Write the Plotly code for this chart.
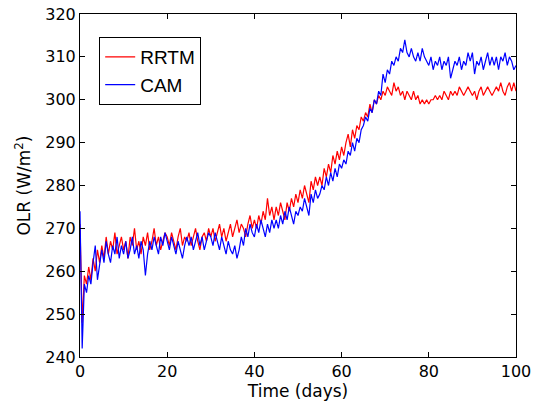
import plotly.graph_objects as go

# sample times (days), every half day from 0 to 100
time_days = [i * 0.5 for i in range(201)]

rrtm_olr = [
    271, 248, 259, 257, 261, 258, 263, 260, 265, 262,
    266, 263, 268, 264, 267, 265, 269, 264, 266, 268,
    265, 267, 263, 268, 266, 270, 265, 267, 264, 268,
    266, 269, 265, 267, 270, 266, 268, 265, 267, 269,
    268, 266, 269, 267, 265, 268, 270, 266, 268, 267,
    269, 266, 268, 270, 267, 265, 268, 269, 267, 270,
    268, 270, 267, 269, 271, 268, 270, 267, 269, 271,
    268, 270, 272, 269, 271, 270, 268, 271, 273, 270,
    272, 270, 273, 271, 274, 272, 277, 273, 275, 272,
    275, 273, 276, 274, 272, 276, 274, 277, 275, 278,
    276, 279, 277, 280, 278, 276, 281, 279, 282, 280,
    282, 280, 284, 282, 285, 283, 287, 285, 288, 286,
    289, 287, 290, 292, 289, 293, 291, 294, 293, 296,
    295, 297, 296, 299, 297, 300, 299, 301, 300, 302,
    301, 303, 302, 301, 304, 302, 303, 301, 302, 300,
    302, 301, 300, 302, 300, 301, 299, 300, 299, 300,
    299, 300, 300, 301, 300, 301, 300, 302, 301, 300,
    302, 301, 302, 301, 303, 302, 301, 302, 303, 302,
    301, 302, 300, 302, 303, 301, 302, 303, 302, 301,
    302, 303, 302, 304, 302, 301, 303, 304, 302, 304,
    302,
]

cam_olr = [
    274, 242, 257, 255, 259, 257, 262, 266, 258, 262,
    265, 262, 267, 264, 262, 266, 264, 268, 263, 266,
    264, 267, 263, 265, 268, 264, 266, 263, 267, 265,
    259, 264, 267, 265, 268, 266, 264, 268, 266, 269,
    267, 265, 268, 266, 264, 267, 265, 263, 266, 268,
    266, 268, 265, 267, 269, 266, 268, 265, 267, 269,
    268, 266, 269, 267, 265, 268, 266, 264, 267, 265,
    264, 266, 263, 265, 268, 266, 270, 268, 271, 269,
    268, 271, 269, 272, 270, 268, 271, 269, 272, 270,
    272, 270, 273, 271, 274, 272, 275, 273, 271, 274,
    273, 275, 274, 277, 275, 273, 278, 276, 279, 277,
    278, 280, 279, 282, 280, 283, 281, 284, 282, 285,
    284, 286, 285, 288, 287, 290, 288, 291, 290, 293,
    294, 296, 295, 298, 297, 300, 299, 302, 301, 306,
    304, 307, 306, 309, 308, 310, 309, 312, 311, 314,
    311, 310, 312, 310, 309, 311, 309, 312, 310, 309,
    308, 310, 307, 309, 308, 310, 307, 309, 308, 310,
    305, 307, 309, 308, 310, 307, 309, 308, 311, 309,
    311, 306, 309, 308, 310, 307, 309, 311, 308, 310,
    308, 310, 307, 310, 309, 311, 308, 310, 309, 307,
    308,
]

x_ticks = [0, 20, 40, 60, 80, 100]
y_ticks = [240, 250, 260, 270, 280, 290, 300, 310, 320]

TICK_FONT = "DejaVu Sans, Liberation Sans, sans-serif"
LEG_FONT = "Liberation Sans, Arial, Helvetica, sans-serif"

fig = go.Figure()
fig.add_trace(go.Scatter(x=time_days, y=rrtm_olr, mode="lines", name="RRTM",
                         legendgroup="a",
                         line=dict(color="#ff0000", width=1.2)))
fig.add_trace(go.Scatter(x=time_days, y=cam_olr, mode="lines", name="CAM",
                         legendgroup="b",
                         line=dict(color="#0000ff", width=1.2)))

axis_common = dict(
    showgrid=False, zeroline=False, showline=True, linecolor="black",
    linewidth=1, mirror="ticks", ticks="inside", ticklen=5,
    tickcolor="black", tickwidth=1, automargin=False,
    tickfont=dict(family=TICK_FONT, size=16, color="black"),
)

fig.update_layout(
    width=534, height=406,
    margin=dict(l=80, r=18, t=14, b=49),
    paper_bgcolor="white", plot_bgcolor="white",
    font=dict(family=TICK_FONT, size=16, color="black"),
    showlegend=True,
    legend=dict(x=0.044, y=0.933, xanchor="left", yanchor="top",
                bgcolor="white", bordercolor="black", borderwidth=1,
                traceorder="grouped", tracegroupgap=0,
                font=dict(family=LEG_FONT, size=19, color="black")),
    xaxis=dict(range=[0, 100], tickvals=x_ticks,
               title=dict(text="Time (days)", standoff=0,
                          font=dict(family=TICK_FONT, size=17)),
               **axis_common),
    yaxis=dict(range=[240, 320], tickvals=y_ticks,
               title=dict(text="OLR (W/m<sup>2</sup>)", standoff=10,
                          font=dict(family=TICK_FONT, size=17)),
               **axis_common),
)

fig.write_html("out.html")
